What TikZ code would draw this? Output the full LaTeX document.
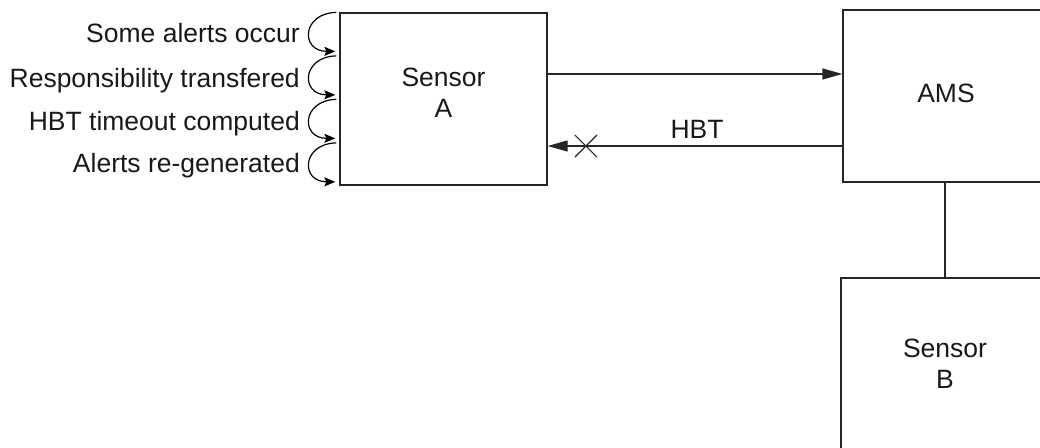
\documentclass[tikz,border=0pt]{standalone}
\usepackage{fontspec}
\setmainfont{Liberation Sans}
\usetikzlibrary{arrows.meta,calc}
\begin{document}
\begin{tikzpicture}[x=1pt,y=-1pt,
  every node/.style={font=\fontsize{26.5}{31}\selectfont, text=black!90},
  box/.style={draw=black!85, line width=1.3pt, minimum width=207pt, minimum height=172pt, align=center, inner sep=0pt},
  txt/.style={align=center, inner sep=0pt},
  conn/.style={draw=black!85, line width=1.3pt},
  bigarrow/.style={conn, -{Triangle[length=20pt,width=11pt]}},
  selfloop/.style={draw=black, line width=1.2pt, -{Stealth[length=11pt,width=9pt,inset=2pt]}},
  lbl/.style={anchor=base east, inner sep=0pt}]
\useasboundingbox (0,0) rectangle (1040,447);
\clip (0,0) rectangle (1040,447);
% boxes
\node[box] (A) at (443.5,99) {};
\node[txt] (At) at (443.5,93) {Sensor\\A};
\node[box, minimum width=208pt] (AMS) at (947,96) {};
\node[txt] (AMSt) at (946,93) {AMS};
\node[box, minimum width=208pt] (B) at (945,364) {};
\node[txt] (Bt) at (945,364) {Sensor\\B};
% connectors
\draw[bigarrow] ([yshift=25pt]A.east) -- ([yshift=22pt]AMS.west);
\draw[bigarrow] ([yshift=-50pt]AMS.west) -- coordinate[pos=0.87] (x) ([yshift=-47pt]A.east);
\draw[conn, line width=1.1pt] ($(x)+(-11,-11)$) -- ($(x)+(11,11)$);
\draw[conn, line width=1.1pt] ($(x)+(-11,11)$) -- ($(x)+(11,-11)$);
\node[anchor=base, inner sep=0pt] (hbt) at (697,138) {HBT};
\draw[conn] (AMS.south -| B.north) -- (B.north);
% self loops
\foreach \i in {0,1,2,3}{
  \draw[selfloop] ($(A.north west)+(-3,43.5*\i)$) .. controls +(-35,1) and +(-35,0) .. ($(A.north west)+(-4,39+43.5*\i)$);
}
% labels
\node[lbl] (l1) at (300,42) {Some alerts occur};
\node[lbl] (l2) at (300,87) {Responsibility transfered};
\node[lbl] (l3) at (300,130) {HBT timeout computed};
\node[lbl] (l4) at (300,172) {Alerts re-generated};
\end{tikzpicture}
\end{document}
